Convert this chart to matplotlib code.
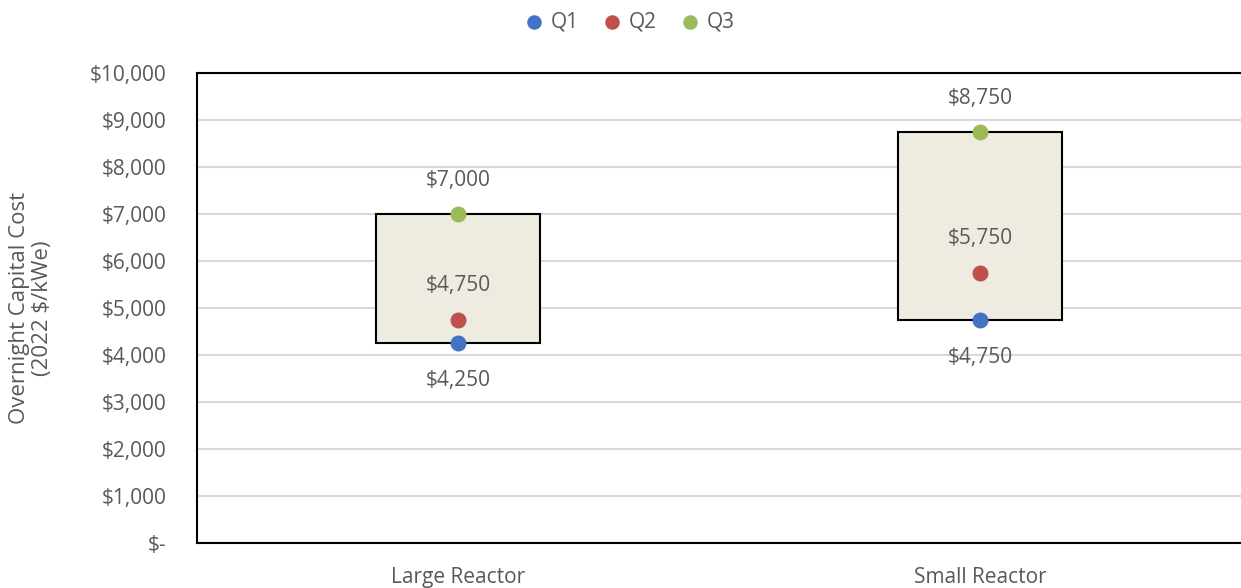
import matplotlib.pyplot as plt
from matplotlib.ticker import FuncFormatter

# data
categories = ['Large Reactor', 'Small Reactor']
q1 = [4250, 4750]
q2 = [4750, 5750]
q3 = [7000, 8750]

plt.rcParams['font.family'] = ['Open Sans', 'DejaVu Sans']
grey = '#595959'

fig = plt.figure(figsize=(12.41, 5.88), dpi=100)
ax = fig.add_axes([0.1587, 0.0765, 0.8413, 0.7994])

x = list(range(len(categories)))
box_w = 0.315

# boxes from Q1 to Q3
ax.bar(x, [b - a for a, b in zip(q1, q3)], bottom=q1, width=box_w,
       color='#EEECE1', edgecolor='black', linewidth=1.5, zorder=2)

ax.scatter(x, q1, s=110, color='#4472C4', zorder=3, label='Q1')
ax.scatter(x, q2, s=110, color='#C0504D', zorder=3, label='Q2')
ax.scatter(x, q3, s=110, color='#9BBB59', zorder=3, label='Q3')

def money(v):
    return '${:,.0f}'.format(v)

for xi, a, m, b in zip(x, q1, q2, q3):
    ax.annotate(money(b), (xi, b), xytext=(0, 24), textcoords='offset points',
                ha='center', va='center', fontsize=15, color=grey, zorder=4)
    ax.annotate(money(m), (xi, m), xytext=(0, 25), textcoords='offset points',
                ha='center', va='center', fontsize=15, color=grey, zorder=4)
    ax.annotate(money(a), (xi, a), xytext=(0, -27), textcoords='offset points',
                ha='center', va='center', fontsize=15, color=grey, zorder=4)

ax.set_xlim(-0.5, 1.5)
ax.set_ylim(0, 10000)
ax.set_yticks(range(0, 10001, 1000))
ax.yaxis.set_major_formatter(FuncFormatter(lambda v, p: '$-' if v == 0 else money(v)))
ax.set_xticks(x)
ax.set_xticklabels(categories)
ax.tick_params(axis='both', length=0, labelsize=15, colors=grey)
ax.tick_params(axis='x', pad=17)
ax.tick_params(axis='y', pad=22)

ax.grid(axis='y', color='#D9D9D9', linewidth=1.5, zorder=0)
ax.set_axisbelow(True)
for s in ['left', 'top', 'bottom']:
    ax.spines[s].set_linewidth(1.5)
    ax.spines[s].set_color('black')
ax.spines['right'].set_visible(False)

ax.set_ylabel('Overnight Capital Cost\n(2022 $/kWe)', fontsize=16, color=grey,
              va='center', linespacing=1.1)
ax.yaxis.set_label_coords(-0.159, 0.5)

fig.legend(loc='upper center', bbox_to_anchor=(0.503, 1.012), ncol=3, frameon=False,
           fontsize=15, labelcolor=grey, handletextpad=-0.2, columnspacing=0.6,
           markerscale=0.9)

fig.savefig('out.png', dpi=100)
